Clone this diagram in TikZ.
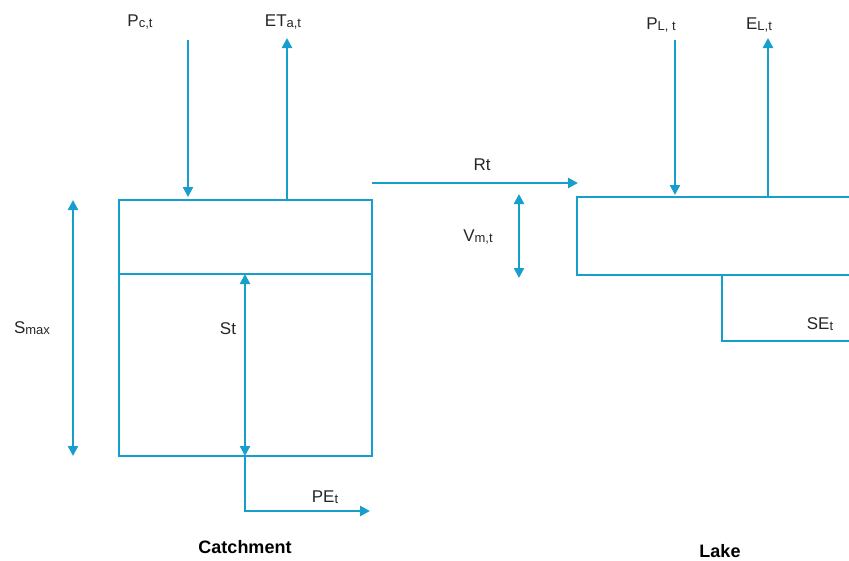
\documentclass[tikz,border=0pt]{standalone}
\usepackage{fontspec}
\setmainfont{Liberation Sans}
\usetikzlibrary{arrows.meta}
\definecolor{flow}{RGB}{22,158,204}
\newcommand\lbsub[1]{{\fontsize{13}{13}\selectfont\raisebox{-1pt}{#1}}}
\begin{document}
\begin{tikzpicture}[x=1pt,y=-1pt,
  line/.style={draw=flow,line width=2.2pt},
  arr/.style={line,-{Triangle[length=10pt,width=10pt]}},
  darr/.style={line,{Triangle[length=10pt,width=10pt]}-{Triangle[length=10pt,width=10pt]}},
  lbl/.style={inner sep=0pt,font=\fontsize{17}{17}\selectfont,text=black!85},
  title/.style={inner sep=0pt,font=\fontsize{18}{18}\selectfont\bfseries,text=black}]
\useasboundingbox (0,0) rectangle (849,560);
\clip (0,0) rectangle (849,560);
% catchment box
\coordinate (cTL) at (119,200);
\coordinate (cBR) at (372,456);
\draw[line] (cTL) rectangle (cBR);
\coordinate (cML) at (119,274);
\coordinate (cMR) at (372,274);
\draw[line] (cML) -- (cMR);
% precipitation and ET on catchment
\coordinate (pcS) at (188,40);
\coordinate (pcE) at (188,197);
\draw[arr] (pcS) -- (pcE);
\node[lbl] (pc) at (140,22) {P\lbsub{c,t}};
\coordinate (etS) at (287,200);
\coordinate (etE) at (287,38);
\draw[arr] (etS) -- (etE);
\node[lbl] (eta) at (283,22) {ET\lbsub{a,t}};
% Smax
\coordinate (smT) at (73,200);
\coordinate (smB) at (73,456);
\draw[darr] (smT) -- (smB);
\node[lbl] (smax) at (32,328) {S\lbsub{max}};
% St
\coordinate (stT) at (245,274);
\coordinate (stB) at (245,456);
\draw[darr] (stT) -- (stB);
\node[lbl] (st) at (228,329) {St};
% PEt
\coordinate (peC) at (245,511);
\coordinate (peE) at (370,511);
\draw[arr] (stB) -- (peC) -- (peE);
\node[lbl] (pe) at (325,497) {PE\lbsub{t}};
\node[title] (catch) at (245,547) {Catchment};
% runoff
\coordinate (rS) at (372,183);
\coordinate (rE) at (578,183);
\draw[arr] (rS) -- (rE);
\node[lbl] (rt) at (482,165) {Rt};
% Vm,t
\coordinate (vT) at (519,194);
\coordinate (vB) at (519,278);
\draw[darr] (vT) -- (vB);
\node[lbl] (vm) at (478,237) {V\lbsub{m,t}};
% lake box
\coordinate (lTR) at (860,197);
\coordinate (lTL) at (577,197);
\coordinate (lBL) at (577,275);
\coordinate (lBR) at (860,275);
\draw[line] (lTR) -- (lTL) -- (lBL) -- (lBR);
% lake fluxes
\coordinate (plS) at (675,40);
\coordinate (plE) at (675,195);
\draw[arr] (plS) -- (plE);
\node[lbl] (pl) at (661,25) {P\lbsub{L, t}};
\coordinate (elS) at (768,197);
\coordinate (elE) at (768,38);
\draw[arr] (elS) -- (elE);
\node[lbl] (el) at (759,25) {E\lbsub{L,t}};
% SE box
\coordinate (seT) at (722,275);
\coordinate (seB) at (722,341);
\coordinate (seR) at (860,341);
\draw[line] (seT) -- (seB) -- (seR);
\node[lbl] (se) at (820,324) {SE\lbsub{t}};
\node[title] (lake) at (720,551) {Lake};
\end{tikzpicture}
\end{document}
